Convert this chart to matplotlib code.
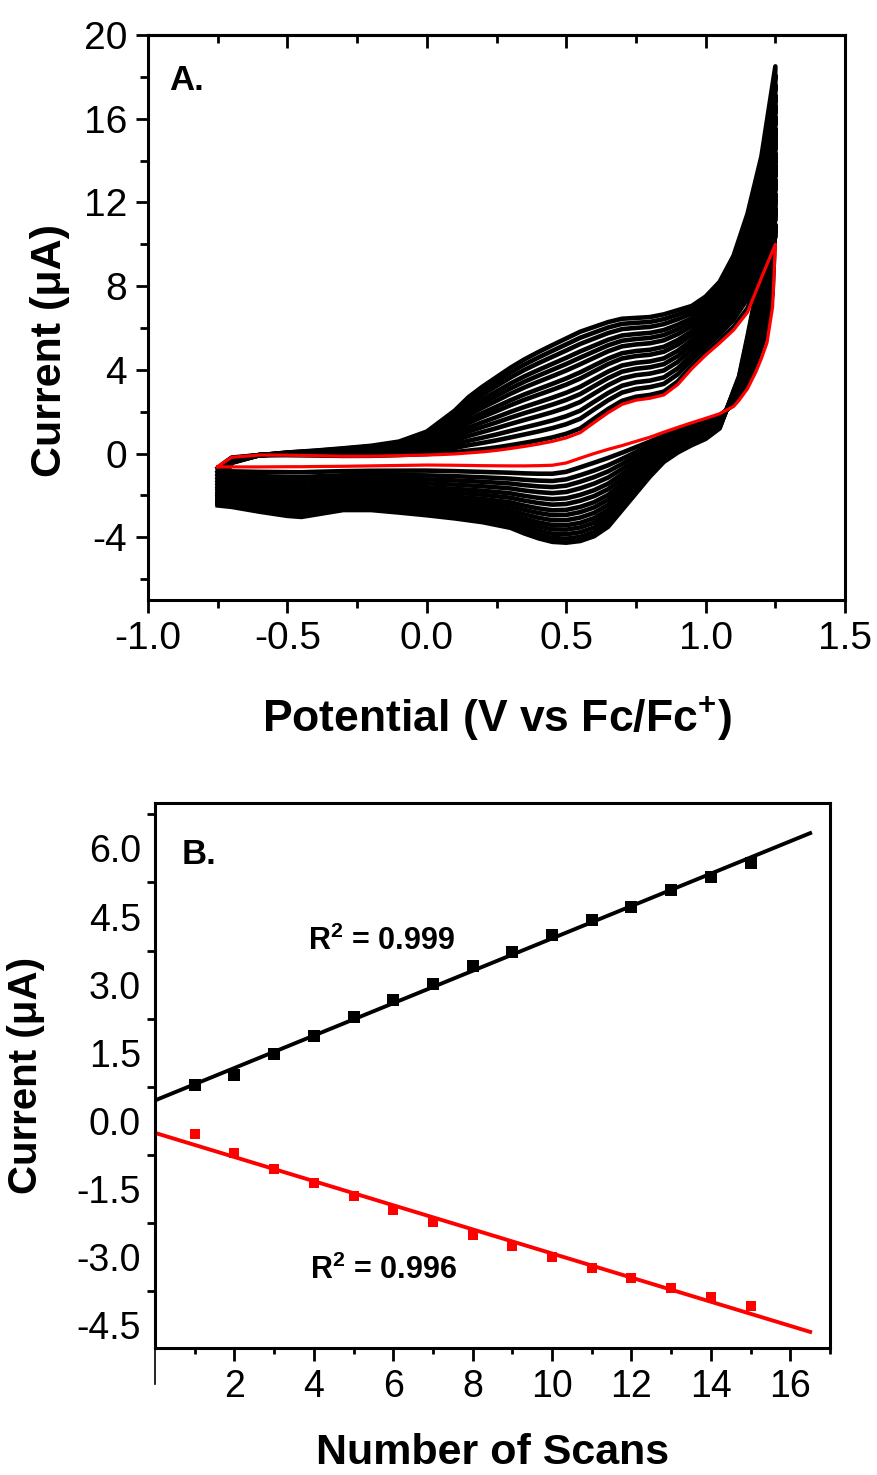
import numpy as np
import matplotlib.pyplot as plt
from matplotlib.ticker import MultipleLocator, FixedLocator

plt.rcParams['font.family'] = ['Liberation Sans', 'DejaVu Sans']
plt.rcParams['mathtext.fontset'] = 'custom'
plt.rcParams['mathtext.rm'] = 'Liberation Sans'
plt.rcParams['mathtext.bf'] = 'Liberation Sans:bold'
plt.rcParams['axes.unicode_minus'] = False

##### DATA ############
# panel B: peak current vs number of scans
scan_no = [1, 2, 3, 4, 5, 6, 7, 8, 9, 10, 11, 12, 13, 14, 15]
anodic_peak = [0.80, 1.00, 1.47, 1.86, 2.28, 2.66, 3.01, 3.41, 3.71, 4.10,
               4.42, 4.72, 5.08, 5.38, 5.67]
cathodic_peak = [-0.28, -0.70, -1.06, -1.36, -1.66, -1.96, -2.23, -2.51, -2.75, -3.00,
                 -3.24, -3.45, -3.67, -3.88, -4.07]
r2_anodic = "0.999"
r2_cathodic = "0.996"

E_fwd = [-0.75, -0.72, -0.70, -0.60, -0.50, -0.40, -0.30, -0.20, -0.10, 0.00,
         0.05, 0.10, 0.15, 0.20, 0.25, 0.30, 0.35, 0.40, 0.45, 0.50,
         0.55, 0.60, 0.65, 0.70, 0.75, 0.80, 0.85, 0.90, 0.95, 1.00,
         1.05, 1.10, 1.15, 1.20, 1.25]
I_first_fwd = [-0.62, -0.35, -0.18, -0.07, -0.08, -0.10, -0.13, -0.13, -0.10, -0.07,
               -0.05, -0.02, 0.03, 0.08, 0.15, 0.24, 0.34, 0.45, 0.58, 0.75,
               1.00, 1.48, 1.95, 2.35, 2.55, 2.64, 2.80, 3.30, 4.05, 4.70,
               5.28, 5.90, 6.75, 8.40, 10.0]
I_last_fwd = [-2.40, -1.00, -0.45, -0.08, 0.05, 0.14, 0.25, 0.37, 0.57, 1.05,
              1.55, 2.05, 2.70, 3.20, 3.65, 4.10, 4.50, 4.85, 5.18, 5.50,
              5.82, 6.05, 6.28, 6.44, 6.48, 6.52, 6.65, 6.85, 7.05, 7.50,
              8.20, 9.45, 11.45, 14.20, 18.50]

E_rev = [1.25, 1.24, 1.22, 1.20, 1.18, 1.15, 1.12, 1.10, 1.05, 1.00,
         0.95, 0.90, 0.85, 0.80, 0.75, 0.70, 0.65, 0.60, 0.55, 0.50,
         0.45, 0.40, 0.35, 0.30, 0.20, 0.10, 0.00, -0.10, -0.20, -0.30,
         -0.40, -0.45, -0.50, -0.60, -0.70, -0.75]
I_first_rev = [10.0, 7.00, 5.30, 4.55, 3.90, 3.10, 2.55, 2.25, 1.90, 1.68,
               1.47, 1.25, 1.02, 0.78, 0.58, 0.38, 0.20, 0.00, -0.22, -0.45,
               -0.56, -0.58, -0.59, -0.59, -0.58, -0.56, -0.55, -0.57, -0.59, -0.61,
               -0.62, -0.63, -0.63, -0.64, -0.64, -0.64]
I_last_rev = [18.50, 13.00, 10.60, 9.00, 7.60, 5.60, 3.70, 3.00, 1.20, 0.70,
              0.40, 0.05, -0.40, -1.10, -1.90, -2.70, -3.50, -3.95, -4.18, -4.26,
              -4.22, -4.05, -3.82, -3.55, -3.28, -3.10, -2.95, -2.82, -2.70, -2.70,
              -2.92, -3.03, -2.98, -2.78, -2.55, -2.48]

fig = plt.figure(figsize=(8.77, 14.75), dpi=100)

###### PANEL A ############
axA = fig.add_axes([0.1688, 0.5932, 0.7948, 0.3831])

first_fwd = np.array(I_first_fwd)
last_fwd = np.array(I_last_fwd)
first_rev = np.array(I_first_rev)
last_rev = np.array(I_last_rev)
E_loop = np.concatenate([E_fwd, E_rev])

# growth of every scan follows the peak currents of panel B
fa = (np.array(anodic_peak) - anodic_peak[0]) / (anodic_peak[-1] - anodic_peak[0])
fc = (np.array(cathodic_peak) - cathodic_peak[0]) / (cathodic_peak[-1] - cathodic_peak[0])

for k in range(1, len(scan_no)):
    fwd = first_fwd + fa[k] * (last_fwd - first_fwd)
    rev = first_rev + fc[k] * (last_rev - first_rev)
    axA.plot(E_loop, np.concatenate([fwd, rev]), color='black', lw=3.3,
             solid_joinstyle='round', zorder=2)

axA.plot(E_loop, np.concatenate([first_fwd, first_rev]), color='red', lw=2.3,
         solid_joinstyle='round', zorder=3)

axA.set_xlim(-1.0, 1.5)
axA.set_ylim(-7, 20)
axA.xaxis.set_major_locator(MultipleLocator(0.5))
axA.xaxis.set_minor_locator(MultipleLocator(0.25))
axA.yaxis.set_major_locator(MultipleLocator(4))
axA.yaxis.set_minor_locator(MultipleLocator(2))
axA.tick_params(which='both', direction='out', width=2, labelsize=28, pad=6)
axA.tick_params(which='major', length=9)
axA.tick_params(which='minor', length=6)
for s in axA.spines.values():
    s.set_linewidth(2.2)

# inward ticks on top axis
sec = axA.secondary_xaxis('top')
sec.xaxis.set_major_locator(MultipleLocator(0.5))
sec.xaxis.set_minor_locator(MultipleLocator(0.25))
sec.tick_params(which='both', direction='in', width=2, labeltop=False)
sec.tick_params(which='major', length=9)
sec.tick_params(which='minor', length=6)
sec.spines['top'].set_linewidth(2.2)

axA.set_xlabel("Potential (V vs Fc/Fc$^{\\mathbf{+}}$)", fontsize=32, fontweight='bold', labelpad=27)
axA.set_ylabel("Current (\u03bcA)", fontsize=31, fontweight='bold')
axA.yaxis.set_label_coords(-0.112, 0.442)
axA.text(0.03, 0.92, "A.", transform=axA.transAxes, fontsize=25, fontweight='bold',
         va='center', ha='left')

###### PANEL B ############
axB = fig.add_axes([0.1767, 0.0861, 0.7697, 0.3695])

xfit = np.array([0.0, 16.5])
pa = np.polyfit(scan_no, anodic_peak, 1)
pc = np.polyfit(scan_no, cathodic_peak, 1)
axB.plot(xfit, np.polyval(pa, xfit), color='black', lw=2.8, zorder=2)
axB.plot(xfit, np.polyval(pc, xfit), color='red', lw=2.8, zorder=2)
axB.plot(scan_no, anodic_peak, 's', color='black', ms=8.5, mew=0, zorder=3)
axB.plot(scan_no, cathodic_peak, 's', color='red', ms=7, mew=0, zorder=3)

axB.text(3.85, 3.96, "R$^{\\mathbf{2}}$ = " + r2_anodic, fontsize=22, fontweight='bold',
         va='center', ha='left')
axB.text(3.9, -3.30, "R$^{\\mathbf{2}}$ = " + r2_cathodic, fontsize=22, fontweight='bold',
         va='center', ha='left')
axB.text(0.04, 0.905, "B.", transform=axB.transAxes, fontsize=25, fontweight='bold',
         va='center', ha='left')

axB.set_xlim(0, 17)
axB.set_ylim(-5.0, 7.0)
axB.xaxis.set_major_locator(FixedLocator([2, 4, 6, 8, 10, 12, 14, 16]))
axB.xaxis.set_minor_locator(FixedLocator([1, 3, 5, 7, 9, 11, 13, 15, 17]))
# labels sit between the tick marks on this axis
axB.yaxis.set_major_locator(FixedLocator([-4.5, -3.0, -1.5, 0.0, 1.5, 3.0, 4.5, 6.0]))
axB.yaxis.set_minor_locator(FixedLocator([-3.75, -2.25, -0.75, 0.75, 2.25, 3.75, 5.25, 6.75]))
axB.yaxis.set_major_formatter(plt.FormatStrFormatter('%.1f'))
axB.tick_params(which='both', direction='out', width=2, labelsize=27)
axB.tick_params(axis='x', which='major', length=9, pad=6)
axB.tick_params(axis='x', which='minor', length=4.5)
axB.tick_params(axis='y', which='major', length=0, pad=10)
axB.tick_params(axis='y', which='minor', length=6)
for s in axB.spines.values():
    s.set_linewidth(2.2)
# y axis line runs a bit past the x axis
axB.plot([0, 0], [0, -0.066], transform=axB.transAxes, color='black', lw=1.2, clip_on=False)

axB.set_xlabel("Number of Scans", fontsize=31, fontweight='bold', labelpad=20)
axB.set_ylabel("Current (\u03bcA)", fontsize=29, fontweight='bold')
axB.yaxis.set_label_coords(-0.163, 0.5)

fig.savefig("out.png", dpi=100)
